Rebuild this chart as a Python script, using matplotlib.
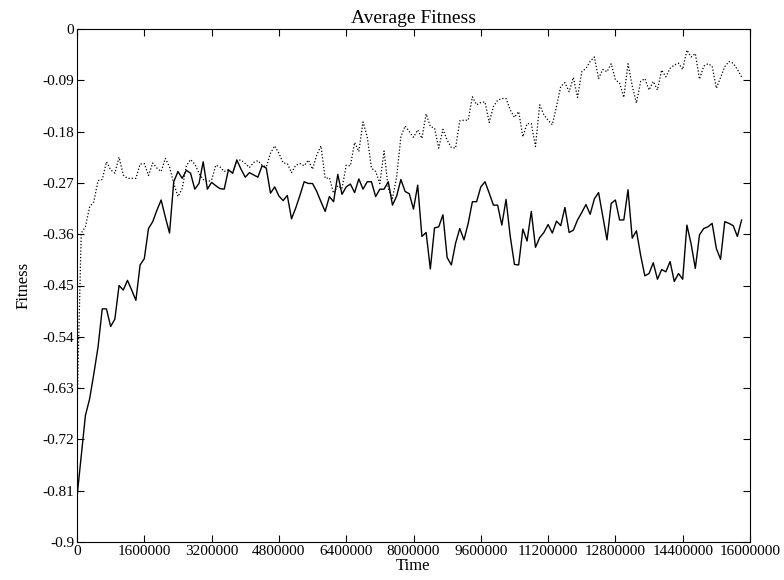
import numpy as np
import matplotlib
matplotlib.use("Agg")
import matplotlib.pyplot as plt

# sampled every 100000 time steps, from 0 to 15800000
time_step = 100000

fitness_solid = [
    -0.821, -0.750, -0.678, -0.649, -0.605, -0.558, -0.491, -0.491, -0.522, -0.509,
    -0.450, -0.458, -0.441, -0.458, -0.476, -0.414, -0.403, -0.350, -0.338, -0.318,
    -0.300, -0.330, -0.358, -0.268, -0.250, -0.262, -0.248, -0.253, -0.281, -0.271,
    -0.233, -0.281, -0.269, -0.275, -0.280, -0.281, -0.247, -0.253, -0.230, -0.246,
    -0.260, -0.252, -0.256, -0.260, -0.240, -0.244, -0.288, -0.277, -0.293, -0.301,
    -0.292, -0.333, -0.314, -0.292, -0.268, -0.271, -0.271, -0.285, -0.303, -0.320,
    -0.294, -0.303, -0.255, -0.290, -0.277, -0.272, -0.287, -0.263, -0.281, -0.268,
    -0.268, -0.294, -0.281, -0.281, -0.268, -0.309, -0.293, -0.264, -0.285, -0.289,
    -0.316, -0.274, -0.364, -0.357, -0.421, -0.349, -0.347, -0.326, -0.401, -0.414,
    -0.376, -0.350, -0.370, -0.341, -0.303, -0.303, -0.277, -0.268, -0.288, -0.309,
    -0.309, -0.344, -0.299, -0.364, -0.413, -0.414, -0.351, -0.372, -0.320, -0.383,
    -0.366, -0.357, -0.343, -0.358, -0.337, -0.345, -0.313, -0.357, -0.353, -0.335,
    -0.322, -0.308, -0.325, -0.298, -0.287, -0.329, -0.370, -0.306, -0.300, -0.335,
    -0.335, -0.282, -0.367, -0.354, -0.397, -0.433, -0.429, -0.410, -0.439, -0.422,
    -0.426, -0.408, -0.443, -0.429, -0.439, -0.344, -0.377, -0.420, -0.361, -0.350,
    -0.347, -0.341, -0.385, -0.404, -0.338, -0.341, -0.345, -0.364, -0.335,
]

fitness_dotted = [
    -0.670, -0.358, -0.347, -0.312, -0.303, -0.266, -0.264, -0.233, -0.247, -0.253,
    -0.225, -0.256, -0.262, -0.262, -0.262, -0.237, -0.236, -0.257, -0.235, -0.244,
    -0.250, -0.227, -0.242, -0.271, -0.294, -0.280, -0.240, -0.229, -0.237, -0.253,
    -0.264, -0.268, -0.265, -0.239, -0.242, -0.250, -0.247, -0.253, -0.230, -0.230,
    -0.236, -0.243, -0.234, -0.231, -0.239, -0.242, -0.218, -0.205, -0.218, -0.235,
    -0.236, -0.252, -0.239, -0.236, -0.240, -0.230, -0.246, -0.221, -0.205, -0.262,
    -0.261, -0.288, -0.275, -0.280, -0.239, -0.240, -0.199, -0.215, -0.163, -0.189,
    -0.244, -0.250, -0.271, -0.214, -0.280, -0.297, -0.259, -0.189, -0.170, -0.180,
    -0.190, -0.177, -0.192, -0.149, -0.171, -0.174, -0.209, -0.176, -0.195, -0.208,
    -0.209, -0.161, -0.160, -0.160, -0.119, -0.133, -0.129, -0.128, -0.164, -0.136,
    -0.125, -0.122, -0.122, -0.142, -0.155, -0.145, -0.189, -0.166, -0.166, -0.206,
    -0.133, -0.151, -0.160, -0.168, -0.136, -0.101, -0.094, -0.110, -0.085, -0.120,
    -0.075, -0.069, -0.057, -0.049, -0.087, -0.071, -0.075, -0.061, -0.089, -0.095,
    -0.120, -0.061, -0.100, -0.130, -0.092, -0.087, -0.107, -0.092, -0.107, -0.072,
    -0.084, -0.069, -0.063, -0.060, -0.071, -0.037, -0.049, -0.043, -0.088, -0.065,
    -0.061, -0.065, -0.104, -0.085, -0.066, -0.057, -0.060, -0.071, -0.084,
]

x_ticks = [0, 1600000, 3200000, 4800000, 6400000, 8000000,
           9600000, 11200000, 12800000, 14400000, 16000000]
y_ticks = [0, -0.09, -0.18, -0.27, -0.36, -0.45, -0.54, -0.63, -0.72, -0.81, -0.9]
y_tick_labels = ["0", "-0.09", "-0.18", "-0.27", "-0.36", "-0.45",
                 "-0.54", "-0.63", "-0.72", "-0.81", "-0.9"]

plt.rcParams['font.family'] = ['Liberation Serif', 'DejaVu Serif']

time = np.arange(len(fitness_solid)) * time_step

fig = plt.figure(figsize=(7.84, 5.80), dpi=100)
ax = fig.add_axes([77 / 784, 38 / 580, 673 / 784, 513 / 580])

ax.plot(time, fitness_solid, color='black', linewidth=1.0, linestyle='-')
ax.plot(time, fitness_dotted, color='black', linewidth=0.9, dashes=(1, 1.6))

ax.set_xlim(0, 16000000)
ax.set_ylim(-0.9, 0)
ax.set_xticks(x_ticks)
ax.set_xticklabels([str(t) for t in x_ticks])
ax.set_yticks(y_ticks)
ax.set_yticklabels(y_tick_labels)
ax.tick_params(direction='in', top=True, right=True, length=5, width=0.8,
               labelsize=11, pad=2)

for side in ax.spines.values():
    side.set_linewidth(0.8)

ax.set_title('Average Fitness', fontsize=14, pad=4)
ax.set_xlabel('Time', fontsize=12, labelpad=0)
ax.set_ylabel('Fitness', fontsize=12, labelpad=8)

fig.savefig('out.png', dpi=100)
